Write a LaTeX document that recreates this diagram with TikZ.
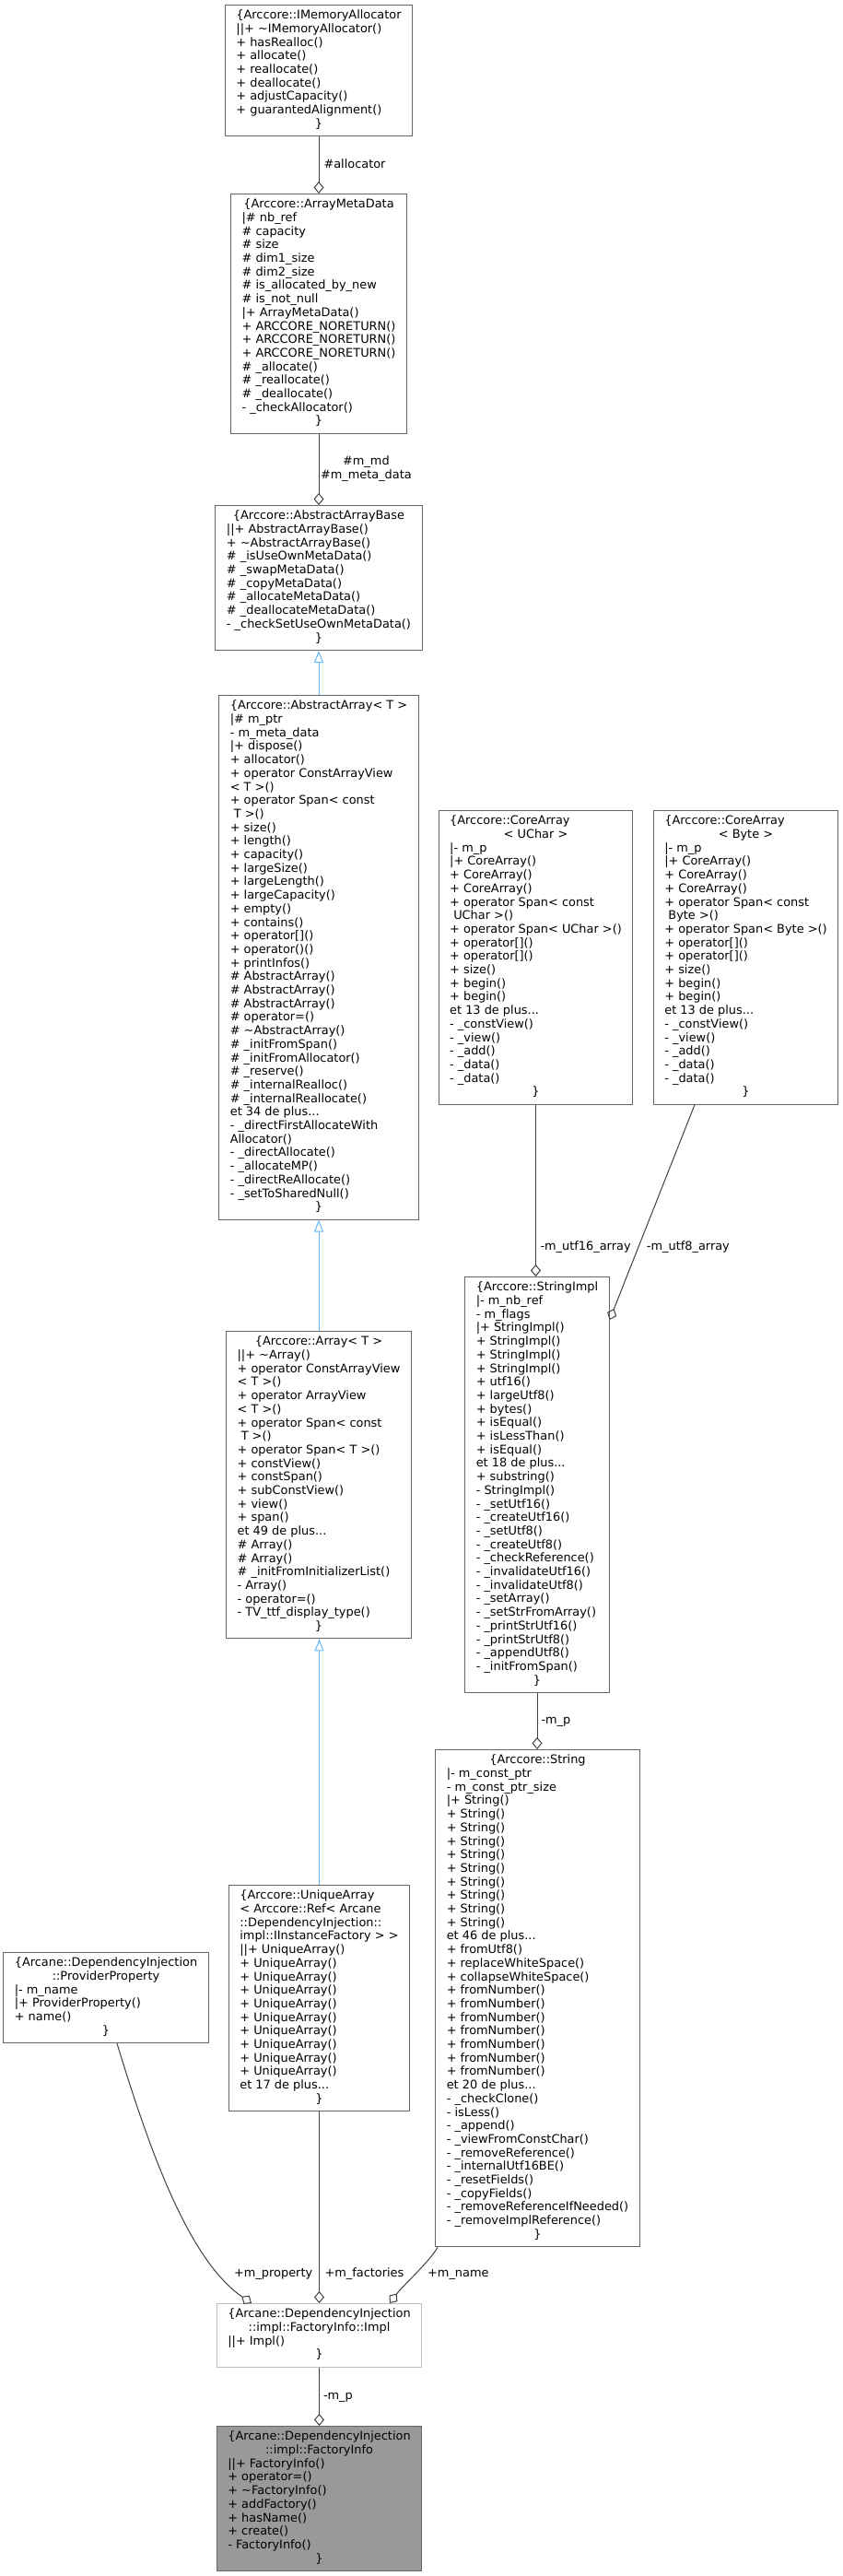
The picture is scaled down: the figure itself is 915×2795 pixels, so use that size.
\documentclass[tikz,border=0pt]{standalone}
\usepackage{fontspec}
\newfontfamily\dvs[Ligatures=NoCommon]{DejaVu Sans}
\usetikzlibrary{arrows.meta,calc}
\definecolor{nodeborder}{HTML}{666666}
\definecolor{edgecol}{HTML}{404040}
\definecolor{inhcol}{HTML}{63B8FF}
\definecolor{lightborder}{HTML}{BFBFBF}
\definecolor{focusfill}{HTML}{999999}
\newcommand{\hc}[1]{\multicolumn{1}{@{}c@{}}{#1}}
\newcommand{\tl}{\textasciitilde}
\begin{document}
\begin{tikzpicture}[x=1pt,y=-1pt,
  cls/.style={draw=nodeborder, fill=white, line width=1pt, inner xsep=12pt, inner ysep=5pt, anchor=north, font=\dvs\fontsize{12.9pt}{14.7pt}\selectfont},
  lbl/.style={inner sep=0pt, text height=9.5pt, text depth=2.5pt, font=\dvs\fontsize{12.9pt}{14.7pt}\selectfont},
  lbltwo/.style={inner sep=0pt, align=center, font=\dvs\fontsize{12.9pt}{14.7pt}\selectfont},
  agg/.style={draw=edgecol, line width=1pt, -{Diamond[open, length=13pt, width=11pt]}},
  inh/.style={draw=inhcol, line width=1pt, -{Triangle[open, length=13pt, width=10pt]}}]
\useasboundingbox (0,0) rectangle (915,2795);

\node[cls] (imem) at (346,5) {\begin{tabular}{@{}l@{}}
\hc{\{Arccore::IMemoryAllocator}\\
||+ \tl IMemoryAllocator()\\
+ hasRealloc()\\
+ allocate()\\
+ reallocate()\\
+ deallocate()\\
+ adjustCapacity()\\
+ guarantedAlignment()\\
\hc{\}}
\end{tabular}};

\node[cls] (amd) at (346,210) {\begin{tabular}{@{}l@{}}
\hc{\{Arccore::ArrayMetaData}\\
|\# nb\_ref\\
\# capacity\\
\# size\\
\# dim1\_size\\
\# dim2\_size\\
\# is\_allocated\_by\_new\\
\# is\_not\_null\\
|+ ArrayMetaData()\\
+ ARCCORE\_NORETURN()\\
+ ARCCORE\_NORETURN()\\
+ ARCCORE\_NORETURN()\\
\# \_allocate()\\
\# \_reallocate()\\
\# \_deallocate()\\
- \_checkAllocator()\\
\hc{\}}
\end{tabular}};

\node[cls] (aab) at (346,548) {\begin{tabular}{@{}l@{}}
\hc{\{Arccore::AbstractArrayBase}\\
||+ AbstractArrayBase()\\
+ \tl AbstractArrayBase()\\
\# \_isUseOwnMetaData()\\
\# \_swapMetaData()\\
\# \_copyMetaData()\\
\# \_allocateMetaData()\\
\# \_deallocateMetaData()\\
- \_checkSetUseOwnMetaData()\\
\hc{\}}
\end{tabular}};

\node[cls] (aa) at (346,754) {\begin{tabular}{@{}l@{}}
\hc{\{Arccore::AbstractArray< T >}\\
|\# m\_ptr\\
- m\_meta\_data\\
|+ dispose()\\
+ allocator()\\
+ operator ConstArrayView\\
< T >()\\
+ operator Span< const\\
\ T >()\\
+ size()\\
+ length()\\
+ capacity()\\
+ largeSize()\\
+ largeLength()\\
+ largeCapacity()\\
+ empty()\\
+ contains()\\
+ operator[]()\\
+ operator()()\\
+ printInfos()\\
\# AbstractArray()\\
\# AbstractArray()\\
\# AbstractArray()\\
\# operator=()\\
\# \tl AbstractArray()\\
\# \_initFromSpan()\\
\# \_initFromAllocator()\\
\# \_reserve()\\
\# \_internalRealloc()\\
\# \_internalReallocate()\\
et 34 de plus...\\
- \_directFirstAllocateWith\\
Allocator()\\
- \_directAllocate()\\
- \_allocateMP()\\
- \_directReAllocate()\\
- \_setToSharedNull()\\
\hc{\}}
\end{tabular}};

\node[cls] (arr) at (346,1444) {\begin{tabular}{@{}l@{}}
\hc{\{Arccore::Array< T >}\\
||+ \tl Array()\\
+ operator ConstArrayView\\
< T >()\\
+ operator ArrayView\\
< T >()\\
+ operator Span< const\\
\ T >()\\
+ operator Span< T >()\\
+ constView()\\
+ constSpan()\\
+ subConstView()\\
+ view()\\
+ span()\\
et 49 de plus...\\
\# Array()\\
\# Array()\\
\# \_initFromInitializerList()\\
- Array()\\
- operator=()\\
- TV\_ttf\_display\_type()\\
\hc{\}}
\end{tabular}};

\node[cls] (ua) at (346.5,2045) {\begin{tabular}{@{}l@{}}
\{Arccore::UniqueArray\\
< Arccore::Ref< Arcane\\
::DependencyInjection::\\
\hc{impl::IInstanceFactory > >}\\
||+ UniqueArray()\\
+ UniqueArray()\\
+ UniqueArray()\\
+ UniqueArray()\\
+ UniqueArray()\\
+ UniqueArray()\\
+ UniqueArray()\\
+ UniqueArray()\\
+ UniqueArray()\\
+ UniqueArray()\\
et 17 de plus...\\
\hc{\}}
\end{tabular}};

\node[cls] (pp) at (115,2118) {\begin{tabular}{@{}l@{}}
\{Arcane::DependencyInjection\\
\hc{::ProviderProperty}\\
|- m\_name\\
|+ ProviderProperty()\\
+ name()\\
\hc{\}}
\end{tabular}};

\node[cls, draw=lightborder] (impl) at (346.5,2499) {\begin{tabular}{@{}l@{}}
\{Arcane::DependencyInjection\\
\hc{::impl::FactoryInfo::Impl}\\
||+ Impl()\\
\hc{\}}
\end{tabular}};

\node[cls, fill=focusfill] (fi) at (346.5,2632) {\begin{tabular}{@{}l@{}}
\{Arcane::DependencyInjection\\
\hc{::impl::FactoryInfo}\\
||+ FactoryInfo()\\
+ operator=()\\
+ \tl FactoryInfo()\\
+ addFactory()\\
+ hasName()\\
+ create()\\
- FactoryInfo()\\
\hc{\}}
\end{tabular}};

\node[cls] (cau) at (581.5,879) {\begin{tabular}{@{}l@{}}
\{Arccore::CoreArray\\
\hc{< UChar >}\\
|- m\_p\\
|+ CoreArray()\\
+ CoreArray()\\
+ CoreArray()\\
+ operator Span< const\\
\ UChar >()\\
+ operator Span< UChar >()\\
+ operator[]()\\
+ operator[]()\\
+ size()\\
+ begin()\\
+ begin()\\
et 13 de plus...\\
- \_constView()\\
- \_view()\\
- \_add()\\
- \_data()\\
- \_data()\\
\hc{\}}
\end{tabular}};

\node[cls] (cab) at (809.5,879) {\begin{tabular}{@{}l@{}}
\{Arccore::CoreArray\\
\hc{< Byte >}\\
|- m\_p\\
|+ CoreArray()\\
+ CoreArray()\\
+ CoreArray()\\
+ operator Span< const\\
\ Byte >()\\
+ operator Span< Byte >()\\
+ operator[]()\\
+ operator[]()\\
+ size()\\
+ begin()\\
+ begin()\\
et 13 de plus...\\
- \_constView()\\
- \_view()\\
- \_add()\\
- \_data()\\
- \_data()\\
\hc{\}}
\end{tabular}};

\node[cls] (simpl) at (583,1385) {\begin{tabular}{@{}l@{}}
\hc{\{Arccore::StringImpl}\\
|- m\_nb\_ref\\
- m\_flags\\
|+ StringImpl()\\
+ StringImpl()\\
+ StringImpl()\\
+ StringImpl()\\
+ utf16()\\
+ largeUtf8()\\
+ bytes()\\
+ isEqual()\\
+ isLessThan()\\
+ isEqual()\\
et 18 de plus...\\
+ substring()\\
- StringImpl()\\
- \_setUtf16()\\
- \_createUtf16()\\
- \_setUtf8()\\
- \_createUtf8()\\
- \_checkReference()\\
- \_invalidateUtf16()\\
- \_invalidateUtf8()\\
- \_setArray()\\
- \_setStrFromArray()\\
- \_printStrUtf16()\\
- \_printStrUtf8()\\
- \_appendUtf8()\\
- \_initFromSpan()\\
\hc{\}}
\end{tabular}};

\node[cls] (str) at (583.5,1898) {\begin{tabular}{@{}l@{}}
\hc{\{Arccore::String}\\
|- m\_const\_ptr\\
- m\_const\_ptr\_size\\
|+ String()\\
+ String()\\
+ String()\\
+ String()\\
+ String()\\
+ String()\\
+ String()\\
+ String()\\
+ String()\\
+ String()\\
et 46 de plus...\\
+ fromUtf8()\\
+ replaceWhiteSpace()\\
+ collapseWhiteSpace()\\
+ fromNumber()\\
+ fromNumber()\\
+ fromNumber()\\
+ fromNumber()\\
+ fromNumber()\\
+ fromNumber()\\
+ fromNumber()\\
et 20 de plus...\\
- \_checkClone()\\
- isLess()\\
- \_append()\\
- \_viewFromConstChar()\\
- \_removeReference()\\
- \_internalUtf16BE()\\
- \_resetFields()\\
- \_copyFields()\\
- \_removeReferenceIfNeeded()\\
- \_removeImplReference()\\
\hc{\}}
\end{tabular}};

% connectors
\draw[agg] (imem.south) -- (amd.north) node[lbl, pos=0.5, anchor=west, xshift=5pt] (lalloc) {\#allocator};
\draw[agg] (amd.south) -- (amd.south |- aab.north) node[lbltwo, pos=0.49, anchor=west, xshift=1.5pt] (lmd) {\#m\_md\\\#m\_meta\_data};
\draw[inh] (aa.north) -- (aab.south);
\draw[inh] (arr.north) -- (aa.south);
\draw[inh] (ua.north) -- (ua.north |- arr.south);
\draw[agg] (cau.south) -- (cau.south |- simpl.north) node[lbl, pos=0.83, anchor=west, xshift=4.5pt] (lu16) {-m\_utf16\_array};
\draw[agg] ([xshift=-55.5pt]cab.south) -- ([yshift=-47pt]simpl.north east) node[lbl, pos=0.662, anchor=west, xshift=8.5pt] (lu8) {-m\_utf8\_array};
\draw[agg] (simpl.south) -- (simpl.south |- str.north) node[lbl, pos=0.49, anchor=west, xshift=4pt] (lmp) {-m\_p};
\draw[agg] ([xshift=12pt]pp.south) .. controls +(33,108) and +(-70,-48) .. ([xshift=-73.5pt]impl.north) node[lbl, pos=0.825, anchor=west, xshift=15pt] (lprop) {+m\_property};
\draw[agg] (ua.south) -- (impl.north) node[lbl, pos=0.847, anchor=west, xshift=5.5pt] (lfac) {+m\_factories};
\draw[agg] ([xshift=-108.5pt]str.south) .. controls +(-8,15) and +(15,-20) .. ([xshift=76.5pt]impl.north) node[lbl, pos=0.5, anchor=west, xshift=12pt] (lname) {+m\_name};
\draw[agg] (impl.south) -- (fi.north) node[lbl, pos=0.5, anchor=west, xshift=4pt] (lmp2) {-m\_p};
\end{tikzpicture}
\end{document}
